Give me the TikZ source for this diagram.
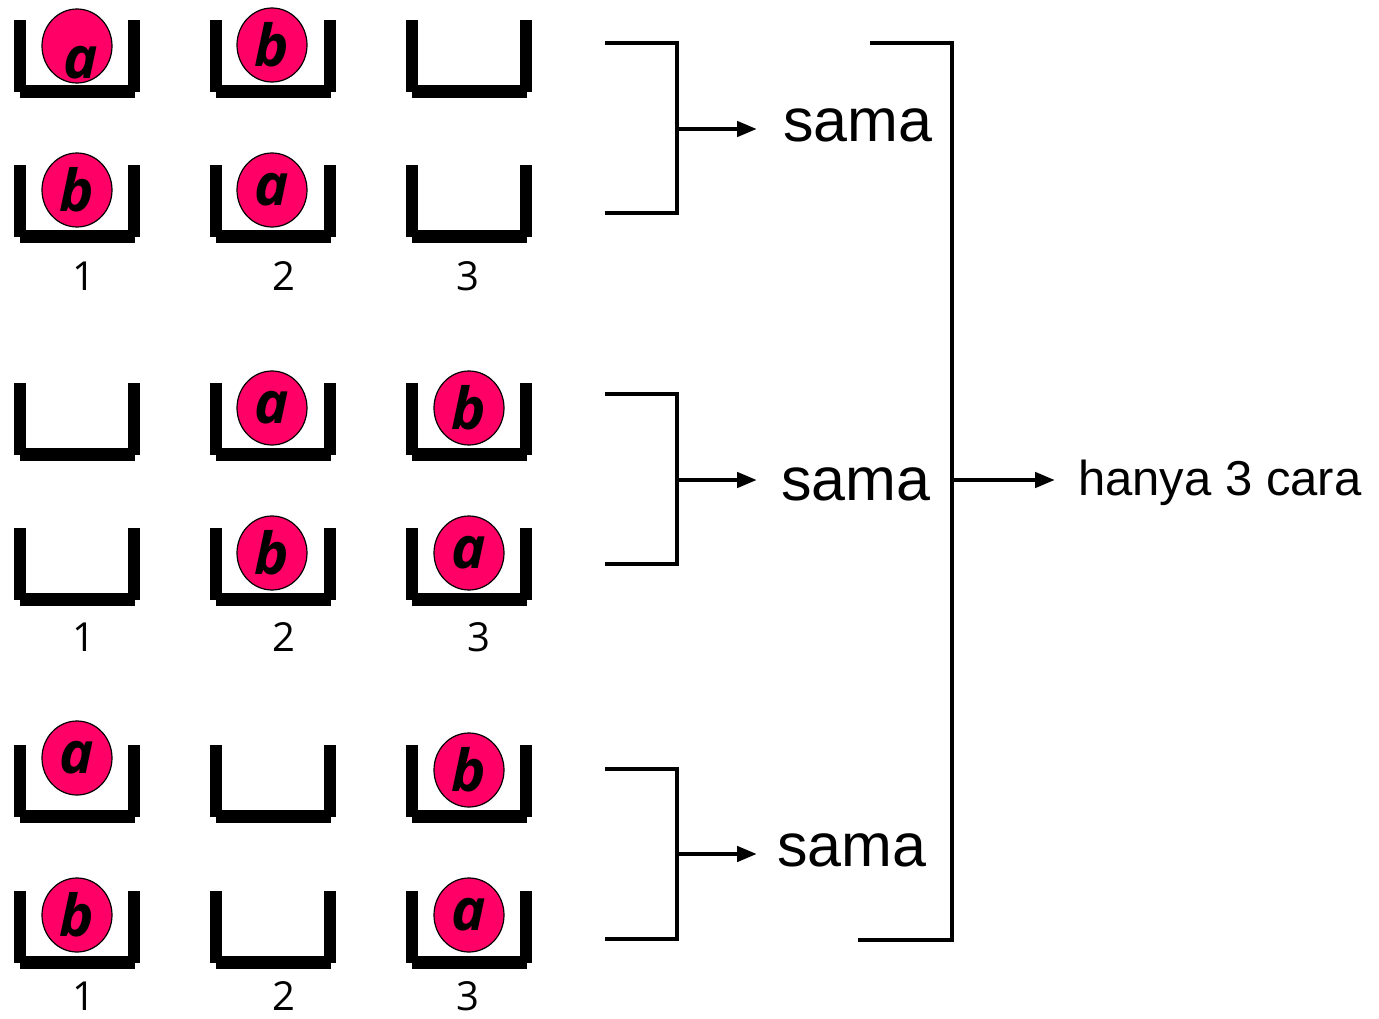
\documentclass[tikz,border=0pt]{standalone}
\usepackage{fontspec}
\setmainfont{Liberation Sans}
\newfontfamily\ballfont{Open Sans}
\usetikzlibrary{arrows.meta,shapes.geometric}
\definecolor{ballpink}{HTML}{FF0066}
\newcommand\bucket[2]{%
  \fill ({#1},{#2}) rectangle ++(12,72);
  \fill ({#1+114},{#2}) rectangle ++(12,72);
  \fill ({#1+6},{#2+65}) rectangle ++(115,13);
}
\begin{document}
\begin{tikzpicture}[x=1pt,y=-1pt,
  ballst/.style={ellipse,draw=black,line width=1.2pt,fill=ballpink,
    minimum width=70pt,minimum height=74pt,inner sep=0pt,
    font=\ballfont\bfseries\itshape\fontsize{58}{60}\selectfont},
  letterst/.style={inner sep=0pt,font=\ballfont\bfseries\itshape\fontsize{58}{60}\selectfont},
  numst/.style={inner sep=0pt,font=\ballfont\fontsize{40}{44}\selectfont},
  samast/.style={inner sep=0pt,anchor=base west,font=\fontsize{61}{70}\selectfont},
  resst/.style={inner sep=0pt,anchor=base west,font=\fontsize{49}{56}\selectfont},
  brk/.style={line width=4.5pt,line cap=rect},
  arr/.style={line width=4.5pt,-{Triangle[length=20pt,width=15pt]}}
]
\useasboundingbox (0,0) rectangle (1379,1019);
% buckets
\foreach \yy in {20,165,383,528,745,891}{
  \foreach \xx in {14,210,406}{
    \bucket{\xx}{\yy}
  }
}
% balls
\node[ballst] (r1a) at (77,46) {};
\node[letterst] (r1al) at (81,63) {a};
\node[ballst] (r1b) at (272,45) {b};
\node[ballst] (r2b) at (77,190) {b};
\node[ballst] (r2a) at (272,190) {a};
\node[ballst] (r3a) at (272,408) {a};
\node[ballst] (r3b) at (469,408) {b};
\node[ballst] (r4b) at (272,553) {b};
\node[ballst] (r4a) at (469,553) {a};
\node[ballst] (r5a) at (77,758) {a};
\node[ballst] (r5b) at (469,770) {b};
\node[ballst] (r6b) at (77,915) {b};
\node[ballst] (r6a) at (469,915) {a};
% numbers
\node[numst] (n11) at (84,276) {1};
\node[numst] (n12) at (284,276) {2};
\node[numst] (n13) at (468,276) {3};
\node[numst] (n21) at (84,637) {1};
\node[numst] (n22) at (284,637) {2};
\node[numst] (n23) at (479,637) {3};
\node[numst] (n31) at (84,996) {1};
\node[numst] (n32) at (284,996) {2};
\node[numst] (n33) at (468,996) {3};
% brackets
\coordinate (g1t) at (607,43);  \coordinate (g1b) at (607,213);
\coordinate (g2t) at (607,394); \coordinate (g2b) at (607,564);
\coordinate (g3t) at (607,769); \coordinate (g3b) at (607,939);
\draw[brk] (g1t) -- (677,43) -- (677,213) -- (g1b);
\draw[brk] (g2t) -- (677,394) -- (677,564) -- (g2b);
\draw[brk] (g3t) -- (677,769) -- (677,939) -- (g3b);
\coordinate (bigt) at (872,43); \coordinate (bigb) at (860,940);
\draw[brk] (bigt) -- (952,43) -- (952,940) -- (bigb);
% texts
\node[samast] (s1) at (783,142) {sama};
\node[samast] (s2) at (781,500) {sama};
\node[samast] (s3) at (777,866) {sama};
\node[resst] (res) at (1078,495) {hanya 3 cara};
% arrows
\coordinate (j1) at (677,129); \coordinate (e1) at (757,129);
\coordinate (j2) at (677,480); \coordinate (e2) at (757,480);
\coordinate (j3) at (677,854); \coordinate (e3) at (757,854);
\coordinate (jb) at (952,480); \coordinate (eb) at (1055,480);
\draw[arr] (j1) -- (e1);
\draw[arr] (j2) -- (e2);
\draw[arr] (j3) -- (e3);
\draw[arr] (jb) -- (eb);
\end{tikzpicture}
\end{document}
